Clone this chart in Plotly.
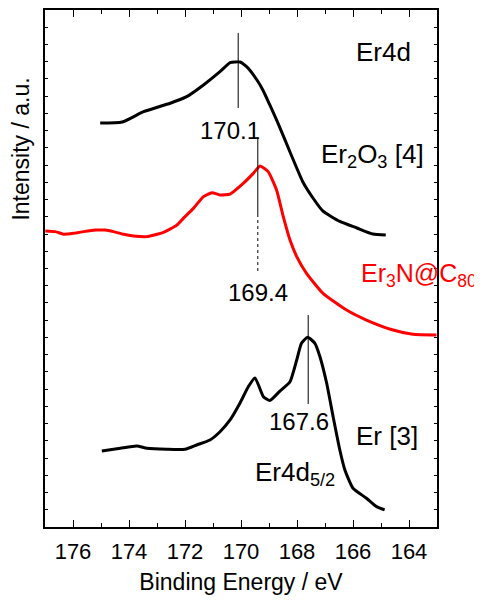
import plotly.graph_objects as go

# ---- data (binding energy in eV, intensity in arbitrary units) ----
er2o3_energy = [175.03, 174.24, 173.48, 172.53, 171.94, 171.34, 170.75, 170.39, 170.04, 169.80,
                169.43, 169.22, 168.97, 168.68, 168.25, 167.79, 167.43, 167.08, 166.47, 165.86,
                165.29, 164.83]
er2o3_intensity = [23.44, 23.50, 24.10, 24.59, 24.97, 25.65, 26.42, 26.94, 26.98, 26.71,
                   25.94, 25.36, 24.49, 23.44, 21.76, 20.02, 19.09, 18.34, 17.73, 17.35,
                   17.00, 16.94]

er3n_energy = [176.99, 176.63, 176.34, 175.98, 175.62, 175.20, 174.85, 174.55, 174.20, 173.84,
               173.36, 172.77, 172.29, 172.06, 171.70, 171.34, 171.04, 170.75, 170.39, 169.92,
               169.56, 169.32, 169.03, 168.73, 168.49, 168.25, 168.01, 167.66, 167.07, 166.23,
               165.52, 164.57, 163.86, 163.02]
er3n_intensity = [17.18, 17.14, 16.99, 17.04, 17.14, 17.23, 17.23, 17.14, 16.99, 16.89,
                  16.85, 17.10, 17.52, 17.91, 18.49, 19.17, 19.40, 19.27, 19.32, 19.94,
                  20.52, 20.95, 20.62, 19.56, 18.01, 16.65, 15.69, 14.72, 13.56, 12.59,
                  12.01, 11.43, 11.18, 11.14]

er_energy = [174.97, 174.31, 173.72, 173.36, 172.65, 172.00, 171.58, 171.11, 170.75, 170.39,
             170.04, 169.74, 169.50, 169.20, 168.97, 168.61, 168.25, 168.01, 167.84, 167.62,
             167.36, 167.18, 166.94, 166.71, 166.47, 166.29, 166.00, 165.52, 165.16, 164.87]
er_intensity = [4.41, 4.57, 4.70, 4.57, 4.51, 4.51, 4.76, 5.05, 5.53, 6.21,
                7.18, 8.14, 8.65, 7.56, 7.34, 7.89, 8.43, 9.69, 10.66, 11.01,
                10.66, 9.88, 8.34, 6.40, 4.47, 3.31, 2.25, 1.67, 1.18, 0.99]

# peak markers: position, solid segment (y top, y bottom)
peak_positions = [170.1, 169.4, 167.6]
peak_labels = ["170.1", "169.4", "167.6"]
marker_top = [28.67, 22.60, 12.30]
marker_bottom = [24.31, 18.16, 7.14]
dotted_bottom_169 = 14.86

x_tick_values = [176, 174, 172, 170, 168, 166, 164]

fig = go.Figure()

line_style = dict(width=3, shape="spline", smoothing=0.5)
fig.add_trace(go.Scatter(x=er2o3_energy, y=er2o3_intensity, mode="lines",
                         line=dict(color="black", **line_style), name="Er2O3"))
fig.add_trace(go.Scatter(x=er3n_energy, y=er3n_intensity, mode="lines",
                         line=dict(color="#ff0000", **line_style), name="Er3N@C80"))
fig.add_trace(go.Scatter(x=er_energy, y=er_intensity, mode="lines",
                         line=dict(color="black", **line_style), name="Er"))

for p, t, b in zip(peak_positions, marker_top, marker_bottom):
    fig.add_trace(go.Scatter(x=[p, p], y=[t, b], mode="lines",
                             line=dict(color="black", width=1), hoverinfo="skip"))
fig.add_trace(go.Scatter(x=[peak_positions[1], peak_positions[1]],
                         y=[marker_bottom[1], dotted_bottom_169], mode="lines",
                         line=dict(color="black", width=1, dash="dot"), hoverinfo="skip"))

FONT = "Liberation Sans, Arial, sans-serif"
ann = [
    dict(x=163.86, y=27.56, text="Er4d", xanchor="right", yanchor="middle", size=26, color="black"),
    dict(x=170.4, y=23.0, text=peak_labels[0], xanchor="center", yanchor="middle", size=24, color="black"),
    dict(x=163.38, y=21.56, text="Er<sub>2</sub>O<sub>3</sub> [4]", xanchor="right", yanchor="middle", size=26, color="black"),
    dict(x=169.39, y=13.58, text=peak_labels[1], xanchor="center", yanchor="middle", size=24, color="black"),
    dict(x=167.93, y=6.1, text=peak_labels[2], xanchor="center", yanchor="middle", size=24, color="black"),
    dict(x=164.78, y=5.27, text="Er [3]", xanchor="center", yanchor="middle", size=26, color="black"),
    dict(x=169.56, y=3.1, text="Er4d<sub>5/2</sub>", xanchor="left", yanchor="middle", size=26, color="black"),
]
for a in ann:
    fig.add_annotation(x=a["x"], y=a["y"], xref="x", yref="y", text=a["text"], showarrow=False,
                       xanchor=a["xanchor"], yanchor=a["yanchor"],
                       font=dict(family=FONT, size=a["size"], color=a["color"]))

# red sample label, reaching past the right edge of the frame
fig.add_annotation(x=1.108, xref="paper", y=14.6, yref="y", text="Er<sub>3</sub>N@C<sub>80</sub>",
                   showarrow=False, xanchor="right", yanchor="middle",
                   font=dict(family=FONT, size=25, color="#ff0000"))

# y-axis title (placed above centre as in the original)
fig.add_annotation(x=-0.0612, y=0.73, xref="paper", yref="paper", text="Intensity / a.u.",
                   showarrow=False, textangle=-90, xanchor="center", yanchor="middle",
                   borderpad=0,
                   font=dict(family=FONT, size=23, color="black"))

# page body has an 8 px default margin, so the figure is 8 px smaller
fig.update_layout(
    width=474, height=587,
    margin=dict(l=37, r=45, t=2, b=68),
    plot_bgcolor="white", paper_bgcolor="white",
    showlegend=False,
    font=dict(family=FONT, color="black"),
    xaxis=dict(
        range=[177, 163], autorange=False,
        tickvals=x_tick_values, ticks="inside", ticklen=7, tickwidth=1.2, tickcolor="black",
        minor=dict(dtick=1, tick0=0, ticks="inside", ticklen=4, tickwidth=1, tickcolor="black"),
        showline=True, linecolor="black", linewidth=1.5, mirror="ticks",
        showgrid=False, zeroline=False,
        tickfont=dict(family=FONT, size=22, color="black"),
        ticklabelstandoff=4,
        title=dict(text="Binding Energy / eV", font=dict(family=FONT, size=23, color="black"), standoff=21),
        automargin=False,
    ),
    yaxis=dict(
        range=[0, 30], autorange=False,
        dtick=1, tick0=0, ticks="inside", ticklen=3, tickwidth=1, tickcolor="black",
        showticklabels=False,
        showline=True, linecolor="black", linewidth=1.5, mirror="ticks",
        showgrid=False, zeroline=False, automargin=False,
    ),
)

fig.write_html("out.html")
